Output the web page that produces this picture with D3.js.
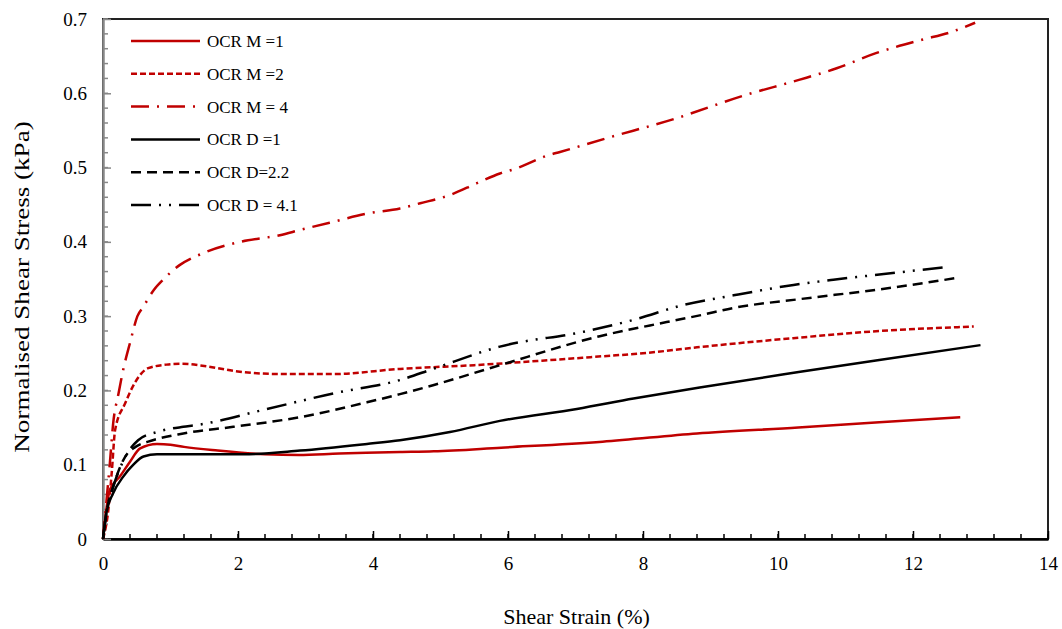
<!DOCTYPE html>
<html>
<head>
<meta charset="utf-8">
<script src="https://cdn.jsdelivr.net/npm/d3@7"></script>
<style>
  body { margin: 0; background: #fff; }
  svg text { font-family: "Liberation Serif", Tinos, "Times New Roman", Times, "DejaVu Serif", serif !important; }
</style>
</head>
<body>
<svg id="canvas"></svg>
<script>
// data
let seriesNames = ['OCR M =1', 'OCR M =2', 'OCR M = 4', 'OCR D =1', 'OCR D=2.2', 'OCR D = 4.1'];

let strainM1 = [0, 0.05, 0.1, 0.25, 0.4, 0.55, 0.8, 1.0, 1.2, 1.7, 2.4, 2.9, 3.5, 3.9, 4.4, 4.9, 5.9, 7.4, 8.8, 10.3, 11.5, 12.7];
let stressM1 = [0, 0.04, 0.066, 0.084, 0.104, 0.122, 0.128, 0.127, 0.124, 0.119, 0.114, 0.113, 0.115, 0.116, 0.117, 0.118, 0.123, 0.131, 0.142, 0.150, 0.157, 0.164];

let strainM2 = [0, 0.08, 0.13, 0.18, 0.33, 0.47, 0.67, 0.97, 1.17, 1.5, 1.96, 2.65, 3.4, 4.4, 5.5, 6.5, 7.4, 8.0, 8.8, 10.3, 11.5, 12.9];
let stressM2 = [0, 0.04, 0.09, 0.147, 0.183, 0.21, 0.23, 0.235, 0.236, 0.233, 0.226, 0.222, 0.222, 0.229, 0.234, 0.24, 0.246, 0.25, 0.258, 0.271, 0.28, 0.286];

let strainM4 = [0, 0.05, 0.1, 0.15, 0.23, 0.3, 0.4, 0.51, 0.6, 0.75, 0.9, 1.14, 1.49, 2.03, 2.62, 2.92, 3.41, 3.91, 4.4, 4.7, 5.14, 5.54, 5.88, 6.13, 6.61, 6.77, 7.44, 8.48, 9.53, 10.31, 10.88, 11.45, 12.13, 12.55, 12.92];
let stressM4 = [0, 0.05, 0.1, 0.155, 0.196, 0.228, 0.264, 0.30, 0.313, 0.335, 0.35, 0.369, 0.385, 0.400, 0.409, 0.416, 0.427, 0.438, 0.445, 0.452, 0.463, 0.479, 0.492, 0.499, 0.517, 0.521, 0.539, 0.566, 0.598, 0.618, 0.634, 0.654, 0.672, 0.682, 0.695];

let strainD1 = [0, 0.05, 0.15, 0.3, 0.45, 0.6, 0.8, 1.44, 2.08, 2.92, 3.91, 4.4, 5.14, 5.88, 7.02, 7.86, 8.84, 10.33, 11.5, 13.0];
let stressD1 = [0, 0.035, 0.0615, 0.084, 0.1, 0.111, 0.114, 0.114, 0.114, 0.119, 0.128, 0.133, 0.144, 0.159, 0.175, 0.189, 0.204, 0.225, 0.241, 0.261];

let strainD22 = [0, 0.05, 0.15, 0.33, 0.5, 0.67, 1.19, 1.93, 2.92, 3.91, 4.4, 4.89, 5.88, 7.36, 8.35, 8.84, 9.34, 10.33, 11.5, 12.62];
let stressD22 = [0, 0.035, 0.07, 0.111, 0.125, 0.131, 0.142, 0.151, 0.164, 0.184, 0.195, 0.207, 0.234, 0.273, 0.292, 0.301, 0.311, 0.323, 0.336, 0.351];

let strainD41 = [0, 0.05, 0.15, 0.3, 0.52, 0.8, 1.19, 1.36, 2.43, 3.41, 4.4, 4.89, 5.88, 7.12, 7.86, 8.6, 9.34, 10.23, 10.82, 11.6, 12.5];
let stressD41 = [0, 0.035, 0.07, 0.105, 0.133, 0.144, 0.151, 0.153, 0.175, 0.196, 0.214, 0.229, 0.259, 0.279, 0.295, 0.315, 0.328, 0.342, 0.349, 0.357, 0.366];

let xTicks = [0, 2, 4, 6, 8, 10, 12, 14];
let yTicks = [0, 0.1, 0.2, 0.3, 0.4, 0.5, 0.6, 0.7];

let width = 1062;
let height = 629;
let plotLeft = 103, plotRight = 1048, plotTop = 19, plotBottom = 539;

let red = '#c00000';
let serif = '"Liberation Serif", Tinos, "Times New Roman", Times, "DejaVu Serif", serif';

let series = [
  { name: seriesNames[0], x: strainM1, y: stressM1, color: red, dash: null },
  { name: seriesNames[1], x: strainM2, y: stressM2, color: red, dash: '6,3' },
  { name: seriesNames[2], x: strainM4, y: stressM4, color: red, dash: '18,8,2,8' },
  { name: seriesNames[3], x: strainD1, y: stressD1, color: '#000', dash: null },
  { name: seriesNames[4], x: strainD22, y: stressD22, color: '#000', dash: '10,6' },
  { name: seriesNames[5], x: strainD41, y: stressD41, color: '#000', dash: '20,8,2,8,2,8' }
];

let svg = d3.select('#canvas')
  .attr('width', width)
  .attr('height', height)
  .attr('font-family', serif);

let xScale = d3.scaleLinear().domain([0, 14]).range([plotLeft, plotRight]);
let yScale = d3.scaleLinear().domain([0, 0.7]).range([plotBottom, plotTop]);

// frame (top + right)
svg.append('rect')
  .attr('x', plotLeft).attr('y', plotTop)
  .attr('width', plotRight - plotLeft).attr('height', plotBottom - plotTop)
  .attr('fill', 'none').attr('stroke', '#222').attr('stroke-width', 2);

// minor ticks
let xMinor = d3.range(0, 14.001, 0.4);
let yMinor = d3.range(0, 0.7001, 0.02);

svg.append('g')
  .selectAll('line')
  .data(xMinor)
  .enter()
  .append('line')
  .attr('x1', d => xScale(d)).attr('x2', d => xScale(d))
  .attr('y1', plotBottom).attr('y2', plotBottom - 5)
  .attr('stroke', '#000').attr('stroke-width', 1.5);

svg.append('g')
  .selectAll('line')
  .data(yMinor)
  .enter()
  .append('line')
  .attr('x1', plotLeft).attr('x2', plotLeft + 5)
  .attr('y1', d => yScale(d)).attr('y2', d => yScale(d))
  .attr('stroke', '#888').attr('stroke-width', 1.5);

// axes
let xAxis = d3.axisBottom(xScale).tickValues(xTicks).tickSizeInner(-8).tickSizeOuter(0).tickPadding(18).tickFormat(d3.format('d'));
let yAxis = d3.axisLeft(yScale).tickValues(yTicks).tickSizeInner(-8).tickSizeOuter(0).tickPadding(16).tickFormat(d => d === 0 ? '0' : d3.format('.1f')(d));

let gx = svg.append('g')
  .attr('transform', `translate(0, ${plotBottom})`)
  .call(xAxis)
  .attr('font-family', serif);
gx.select('.domain').attr('stroke', '#000').attr('stroke-width', 2.5);
gx.selectAll('.tick line').attr('stroke', '#000').attr('stroke-width', 1.5);
gx.selectAll('text').attr('font-size', 19).attr('fill', '#000');

let gy = svg.append('g')
  .attr('transform', `translate(${plotLeft}, 0)`)
  .call(yAxis)
  .attr('font-family', serif);
gy.select('.domain').attr('stroke', '#888').attr('stroke-width', 2.5);
gy.selectAll('.tick line').attr('stroke', '#888').attr('stroke-width', 1.5);
gy.selectAll('text').attr('font-size', 19).attr('fill', '#000');

// curves
let line = d3.line()
  .x(d => xScale(d[0]))
  .y(d => yScale(d[1]))
  .curve(d3.curveMonotoneX);

svg.append('g')
  .selectAll('path')
  .data(series)
  .enter()
  .append('path')
  .attr('d', s => line(s.x.map((v, i) => [v, s.y[i]])))
  .attr('fill', 'none')
  .attr('stroke', s => s.color)
  .attr('stroke-width', 2.5)
  .attr('stroke-dasharray', s => s.dash);

// legend
let legend = svg.append('g').attr('id', 'legend');
let rows = legend.selectAll('g')
  .data(series)
  .enter()
  .append('g')
  .attr('transform', (s, i) => `translate(131, ${41 + i * 32.8})`);

rows.append('line')
  .attr('x1', 0).attr('x2', 69)
  .attr('y1', 0).attr('y2', 0)
  .attr('stroke', s => s.color)
  .attr('stroke-width', 2.5)
  .attr('stroke-dasharray', s => s.dash);

rows.append('text')
  .attr('x', 76)
  .attr('y', 6)
  .attr('font-size', 17)
  .text(s => s.name);

// axis titles
svg.append('text')
  .attr('x', (plotLeft + plotRight) / 2 + 1)
  .attr('y', 624)
  .attr('text-anchor', 'middle')
  .attr('font-size', 22)
  .text('Shear Strain (%)');

// the reference title is stretched along its length
svg.append('text')
  .attr('transform', 'translate(29, 287) rotate(-90) scale(1.23, 1)')
  .attr('text-anchor', 'middle')
  .attr('font-size', 22)
  .text('Normalised Shear Stress (kPa)');
</script>
</body>
</html>
